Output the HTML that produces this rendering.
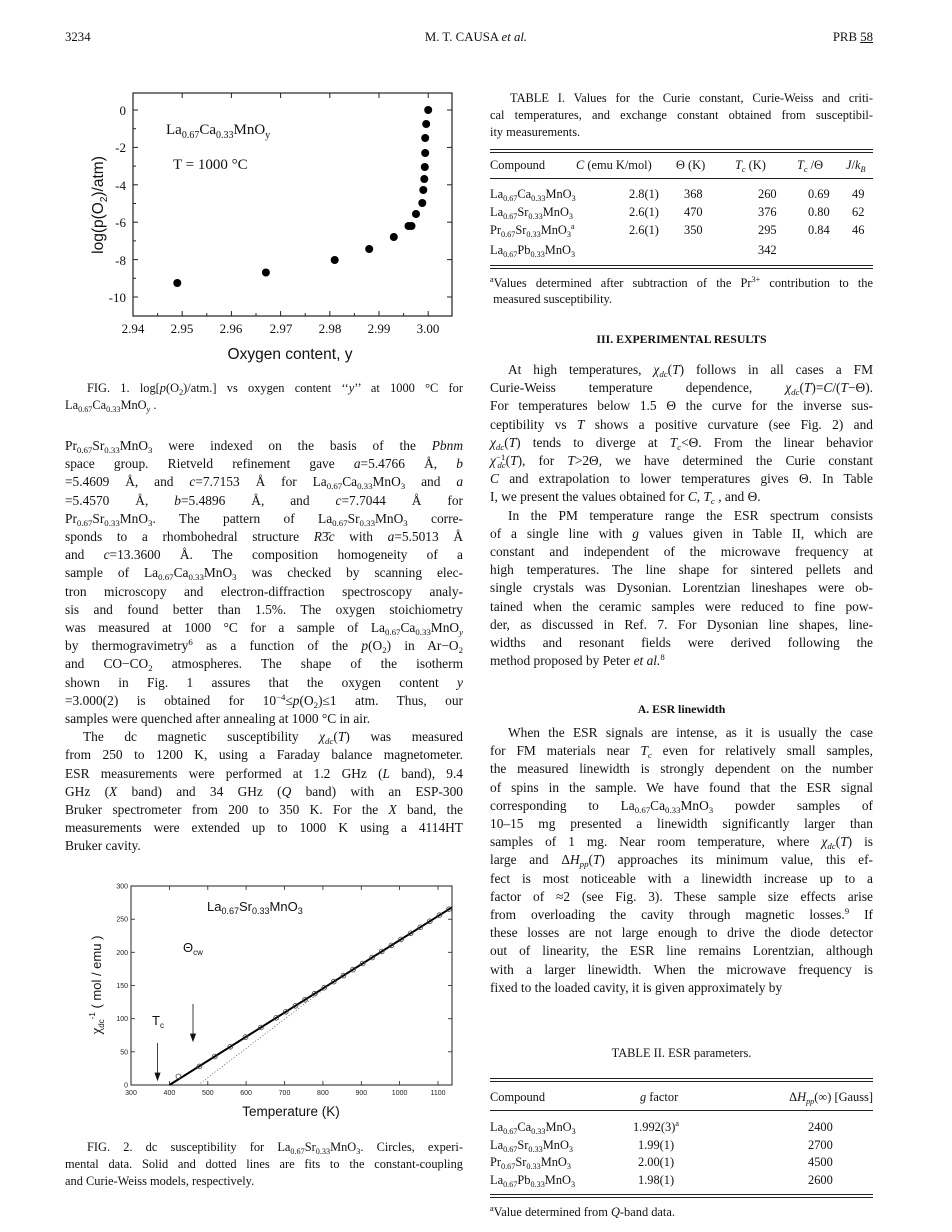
<!DOCTYPE html>
<html><head><meta charset="utf-8"><style>
html,body{margin:0;padding:0;background:#fff;}
body{width:952px;height:1232px;position:relative;overflow:hidden;font-family:"Liberation Serif",serif;color:#111;}
.l{position:absolute;font-size:13.4px;line-height:16px;text-align:justify;text-align-last:justify;white-space:normal;height:16px;overflow:visible}
.L{left:65px;width:398px}
.R{left:490px;width:383px}
.e{text-align-last:left}
.s{position:absolute;font-size:12.4px;line-height:15px;}
sub{font-size:66%;vertical-align:-3px;line-height:0}
sup{font-size:66%;vertical-align:5px;line-height:0}
i{font-style:italic}
.hr{position:absolute;left:490px;width:383px;border-top:1px solid #222}
.cap{font-size:12.4px}
</style></head><body>

<div class="s" style="left:65px;top:30px;font-size:12.8px">3234</div>
<div class="s" style="left:376px;top:30px;width:200px;text-align:center;font-size:12.8px">M. T. CAUSA <i>et al.</i></div>
<div class="s" style="left:825px;top:30px;width:48px;text-align:right;font-size:12.8px">PRB <u>58</u></div>

<!-- FIG 1 -->
<svg style="position:absolute;left:0;top:0" width="470" height="370" font-family="Liberation Sans, sans-serif">
<rect x="133" y="93" width="319" height="223" fill="none" stroke="#222" stroke-width="1.2"/>
<g stroke="#222" stroke-width="1">
<line x1="133" y1="110" x2="138" y2="110"/><line x1="133" y1="147.4" x2="138" y2="147.4"/><line x1="133" y1="184.8" x2="138" y2="184.8"/><line x1="133" y1="222.2" x2="138" y2="222.2"/><line x1="133" y1="259.6" x2="138" y2="259.6"/><line x1="133" y1="297" x2="138" y2="297"/>
<line x1="133" y1="128.7" x2="136" y2="128.7"/><line x1="133" y1="166.1" x2="136" y2="166.1"/><line x1="133" y1="203.5" x2="136" y2="203.5"/><line x1="133" y1="240.9" x2="136" y2="240.9"/><line x1="133" y1="278.3" x2="136" y2="278.3"/>
<line x1="452" y1="110" x2="447" y2="110"/><line x1="452" y1="147.4" x2="447" y2="147.4"/><line x1="452" y1="184.8" x2="447" y2="184.8"/><line x1="452" y1="222.2" x2="447" y2="222.2"/><line x1="452" y1="259.6" x2="447" y2="259.6"/><line x1="452" y1="297" x2="447" y2="297"/>
<line x1="182.2" y1="316" x2="182.2" y2="311"/><line x1="231.4" y1="316" x2="231.4" y2="311"/><line x1="280.6" y1="316" x2="280.6" y2="311"/><line x1="329.8" y1="316" x2="329.8" y2="311"/><line x1="379" y1="316" x2="379" y2="311"/><line x1="428.2" y1="316" x2="428.2" y2="311"/>
<line x1="157.6" y1="316" x2="157.6" y2="313"/><line x1="206.8" y1="316" x2="206.8" y2="313"/><line x1="256" y1="316" x2="256" y2="313"/><line x1="305.2" y1="316" x2="305.2" y2="313"/><line x1="354.4" y1="316" x2="354.4" y2="313"/><line x1="403.6" y1="316" x2="403.6" y2="313"/>
<line x1="182.2" y1="93" x2="182.2" y2="98"/><line x1="231.4" y1="93" x2="231.4" y2="98"/><line x1="280.6" y1="93" x2="280.6" y2="98"/><line x1="329.8" y1="93" x2="329.8" y2="98"/><line x1="379" y1="93" x2="379" y2="98"/><line x1="428.2" y1="93" x2="428.2" y2="98"/>
</g>
<g font-family="Liberation Serif, serif" font-size="13" text-anchor="end" fill="#111">
<text x="126" y="115">0</text><text x="126" y="152">-2</text><text x="126" y="190">-4</text><text x="126" y="227">-6</text><text x="126" y="265">-8</text><text x="126" y="302">-10</text>
</g>
<g font-family="Liberation Serif, serif" font-size="13" text-anchor="middle" fill="#111">
<text x="133" y="333">2.94</text><text x="182" y="333">2.95</text><text x="231" y="333">2.96</text><text x="281" y="333">2.97</text><text x="330" y="333">2.98</text><text x="379" y="333">2.99</text><text x="428" y="333">3.00</text>
</g>
<text x="290" y="359" font-size="15.5" text-anchor="middle" fill="#111">Oxygen content, y</text>
<text transform="translate(103,205) rotate(-90)" font-size="15.5" text-anchor="middle" fill="#111">log(p(O<tspan font-size="10" dy="4">2</tspan><tspan dy="-4">)/atm)</tspan></text>
<text x="166" y="134" font-family="Liberation Serif, serif" font-size="15" fill="#111">La<tspan font-size="10" dy="4">0.67</tspan><tspan dy="-4">Ca</tspan><tspan font-size="10" dy="4">0.33</tspan><tspan dy="-4">MnO</tspan><tspan font-size="10" dy="4">y</tspan></text>
<text x="173" y="169" font-family="Liberation Serif, serif" font-size="15" fill="#111">T = 1000 °C</text>
<g fill="#000">
<circle cx="177.3" cy="283" r="4"/><circle cx="265.9" cy="272.5" r="4"/><circle cx="334.7" cy="260" r="4"/><circle cx="369.2" cy="249" r="4"/><circle cx="393.8" cy="237" r="4"/><circle cx="408.5" cy="226" r="4"/><circle cx="411.5" cy="226" r="4"/><circle cx="416" cy="214" r="4"/><circle cx="422.3" cy="203" r="4"/><circle cx="423.3" cy="190" r="4"/><circle cx="424.3" cy="179" r="4"/><circle cx="424.8" cy="167" r="4"/><circle cx="425.2" cy="153" r="4"/><circle cx="425.2" cy="138" r="4"/><circle cx="426.2" cy="124" r="4"/><circle cx="428.2" cy="110" r="4"/>
</g>
</svg>

<div class="l L cap" style="top:380px;text-indent:22px">FIG. 1. log[<i>p</i>(O<sub>2</sub>)/atm.] vs oxygen content ‘‘<i>y</i>’’ at 1000 °C for</div>
<div class="l L e cap" style="top:397px">La<sub>0.67</sub>Ca<sub>0.33</sub>MnO<sub><i>y</i></sub> .</div>

<div class="l L" style="top:438px">Pr<sub>0.67</sub>Sr<sub>0.33</sub>MnO<sub>3</sub> were indexed on the basis of the <i>Pbnm</i></div>
<div class="l L" style="top:456.2px">space group. Rietveld refinement gave <i>a</i>=5.4766 Å, <i>b</i></div>
<div class="l L" style="top:474.4px">=5.4609 Å, and <i>c</i>=7.7153 Å for La<sub>0.67</sub>Ca<sub>0.33</sub>MnO<sub>3</sub> and <i>a</i></div>
<div class="l L" style="top:492.6px">=5.4570 Å, <i>b</i>=5.4896 Å, and <i>c</i>=7.7044 Å for</div>
<div class="l L" style="top:510.8px">Pr<sub>0.67</sub>Sr<sub>0.33</sub>MnO<sub>3</sub>. The pattern of La<sub>0.67</sub>Sr<sub>0.33</sub>MnO<sub>3</sub> corre-</div>
<div class="l L" style="top:529px">sponds to a rhombohedral structure <i>R</i>3̄<i>c</i> with <i>a</i>=5.5013 Å</div>
<div class="l L" style="top:547.2px">and <i>c</i>=13.3600 Å. The composition homogeneity of a</div>
<div class="l L" style="top:565.4px">sample of La<sub>0.67</sub>Ca<sub>0.33</sub>MnO<sub>3</sub> was checked by scanning elec-</div>
<div class="l L" style="top:583.6px">tron microscopy and electron-diffraction spectroscopy analy-</div>
<div class="l L" style="top:601.8px">sis and found better than 1.5%. The oxygen stoichiometry</div>
<div class="l L" style="top:620px">was measured at 1000 °C for a sample of La<sub>0.67</sub>Ca<sub>0.33</sub>MnO<sub><i>y</i></sub></div>
<div class="l L" style="top:638.2px">by thermogravimetry<sup>6</sup> as a function of the <i>p</i>(O<sub>2</sub>) in Ar−O<sub>2</sub></div>
<div class="l L" style="top:656.4px">and CO−CO<sub>2</sub> atmospheres. The shape of the isotherm</div>
<div class="l L" style="top:674.6px">shown in Fig. 1 assures that the oxygen content <i>y</i></div>
<div class="l L" style="top:692.8px">=3.000(2) is obtained for 10<sup>−4</sup>≤<i>p</i>(O<sub>2</sub>)≤1 atm. Thus, our</div>
<div class="l L e" style="top:711px">samples were quenched after annealing at 1000 °C in air.</div>
<div class="l L" style="top:729.2px;text-indent:18px">The dc magnetic susceptibility <i>χ<sub>dc</sub></i>(<i>T</i>) was measured</div>
<div class="l L" style="top:747.4px">from 250 to 1200 K, using a Faraday balance magnetometer.</div>
<div class="l L" style="top:765.6px">ESR measurements were performed at 1.2 GHz (<i>L</i> band), 9.4</div>
<div class="l L" style="top:783.8px">GHz (<i>X</i> band) and 34 GHz (<i>Q</i> band) with an ESP-300</div>
<div class="l L" style="top:802px">Bruker spectrometer from 200 to 350 K. For the <i>X</i> band, the</div>
<div class="l L" style="top:820.2px">measurements were extended up to 1000 K using a 4114HT</div>
<div class="l L e" style="top:838.4px">Bruker cavity.</div>

<!-- FIG 2 -->
<svg style="position:absolute;left:0;top:870px" width="470" height="260" font-family="Liberation Sans, sans-serif">
<g transform="translate(0,-870)">
<rect x="131" y="886" width="321" height="199" fill="none" stroke="#222" stroke-width="1"/>
<g stroke="#222" stroke-width="0.8">
<line x1="131" y1="886" x2="135" y2="886"/><line x1="131" y1="919.2" x2="135" y2="919.2"/><line x1="131" y1="952.3" x2="135" y2="952.3"/><line x1="131" y1="985.5" x2="135" y2="985.5"/><line x1="131" y1="1018.7" x2="135" y2="1018.7"/><line x1="131" y1="1051.8" x2="135" y2="1051.8"/>
<line x1="452" y1="886" x2="448" y2="886"/><line x1="452" y1="919.2" x2="448" y2="919.2"/><line x1="452" y1="952.3" x2="448" y2="952.3"/><line x1="452" y1="985.5" x2="448" y2="985.5"/><line x1="452" y1="1018.7" x2="448" y2="1018.7"/><line x1="452" y1="1051.8" x2="448" y2="1051.8"/>
<line x1="169.4" y1="1085" x2="169.4" y2="1081"/><line x1="207.8" y1="1085" x2="207.8" y2="1081"/><line x1="246.1" y1="1085" x2="246.1" y2="1081"/><line x1="284.5" y1="1085" x2="284.5" y2="1081"/><line x1="322.9" y1="1085" x2="322.9" y2="1081"/><line x1="361.3" y1="1085" x2="361.3" y2="1081"/><line x1="399.6" y1="1085" x2="399.6" y2="1081"/><line x1="438" y1="1085" x2="438" y2="1081"/>
<line x1="169.4" y1="886" x2="169.4" y2="890"/><line x1="207.8" y1="886" x2="207.8" y2="890"/><line x1="246.1" y1="886" x2="246.1" y2="890"/><line x1="284.5" y1="886" x2="284.5" y2="890"/><line x1="322.9" y1="886" x2="322.9" y2="890"/><line x1="361.3" y1="886" x2="361.3" y2="890"/><line x1="399.6" y1="886" x2="399.6" y2="890"/><line x1="438" y1="886" x2="438" y2="890"/>
</g>
<g font-size="7" text-anchor="end" fill="#222">
<text x="128" y="888.5">300</text><text x="128" y="921.7">250</text><text x="128" y="954.8">200</text><text x="128" y="988">150</text><text x="128" y="1021.2">100</text><text x="128" y="1054.3">50</text><text x="128" y="1087.5">0</text>
</g>
<g font-size="7" text-anchor="middle" fill="#222">
<text x="131" y="1095">300</text><text x="169.4" y="1095">400</text><text x="207.8" y="1095">500</text><text x="246.1" y="1095">600</text><text x="284.5" y="1095">700</text><text x="322.9" y="1095">800</text><text x="361.3" y="1095">900</text><text x="399.6" y="1095">1000</text><text x="438" y="1095">1100</text>
</g>
<text x="291" y="1116" font-size="13.5" text-anchor="middle" fill="#111">Temperature (K)</text>
<text transform="translate(101,985) rotate(-90)" font-size="13" text-anchor="middle" fill="#111"><tspan font-family="Liberation Serif, serif" font-size="15">χ</tspan><tspan font-size="8" dy="3">dc</tspan><tspan font-size="8" dy="-9">-1</tspan><tspan dy="6"> ( mol / emu )</tspan></text>
<text x="207" y="911" font-size="13" fill="#111">La<tspan font-size="9" dy="3">0.67</tspan><tspan dy="-3">Sr</tspan><tspan font-size="9" dy="3">0.33</tspan><tspan dy="-3">MnO</tspan><tspan font-size="9" dy="3">3</tspan></text>
<text x="183" y="952" font-size="13" fill="#111">Θ<tspan font-size="8" dy="3">cw</tspan></text>
<text x="152" y="1025" font-size="13" fill="#111">T<tspan font-size="8" dy="3">c</tspan></text>
<g stroke="#111" stroke-width="0.8" fill="#111">
<line x1="193" y1="1004" x2="193" y2="1036"/><path d="M190.5 1034 L195.5 1034 L193 1041 Z"/>
<line x1="157.5" y1="1043" x2="157.5" y2="1075"/><path d="M155 1073 L160 1073 L157.5 1080 Z"/>
</g>
<line x1="169.4" y1="1085" x2="452" y2="907.3" stroke="#000" stroke-width="2"/>
<line x1="198" y1="1085" x2="332" y2="983" stroke="#555" stroke-width="0.8" stroke-dasharray="1,2"/>
<g fill="none" stroke="#444" stroke-width="0.8">
<circle cx="178.4" cy="1076.4" r="2.4"/><circle cx="199.4" cy="1066.4" r="2.4"/><circle cx="214.8" cy="1056.5" r="2.4"/><circle cx="230.2" cy="1046.8" r="2.4"/><circle cx="245.5" cy="1037.1" r="2.4"/><circle cx="260.9" cy="1027.5" r="2.4"/><circle cx="276.2" cy="1017.8" r="2.4"/><circle cx="285.8" cy="1011.8" r="2.4"/><circle cx="295.4" cy="1005.8" r="2.4"/><circle cx="305" cy="999.7" r="2.4"/><circle cx="314.6" cy="993.7" r="2.4"/><circle cx="324.2" cy="987.7" r="2.4"/><circle cx="333.8" cy="981.6" r="2.4"/><circle cx="343.4" cy="975.6" r="2.4"/><circle cx="353" cy="969.6" r="2.4"/><circle cx="362.6" cy="963.5" r="2.4"/><circle cx="372.2" cy="957.5" r="2.4"/><circle cx="381.8" cy="951.4" r="2.4"/><circle cx="391.4" cy="945.4" r="2.4"/><circle cx="401" cy="939.4" r="2.4"/><circle cx="410.6" cy="933.3" r="2.4"/><circle cx="420.2" cy="927.3" r="2.4"/><circle cx="429.8" cy="921.3" r="2.4"/><circle cx="439.4" cy="915.2" r="2.4"/><circle cx="449" cy="909.2" r="2.4"/>
</g>
</g>
</svg>

<div class="l L cap" style="top:1139px;text-indent:22px">FIG. 2. dc susceptibility for La<sub>0.67</sub>Sr<sub>0.33</sub>MnO<sub>3</sub>. Circles, experi-</div>
<div class="l L cap" style="top:1156px">mental data. Solid and dotted lines are fits to the constant-coupling</div>
<div class="l L e cap" style="top:1173px">and Curie-Weiss models, respectively.</div>

<!-- TABLE I -->
<div class="l R cap" style="top:90px;text-indent:20px">TABLE I. Values for the Curie constant, Curie-Weiss and criti-</div>
<div class="l R cap" style="top:107px">cal temperatures, and exchange constant obtained from susceptibil-</div>
<div class="l R e cap" style="top:124px">ity measurements.</div>
<div class="hr" style="top:149px"></div><div class="hr" style="top:152px"></div>
<div class="s" style="left:490px;top:158px">Compound</div>
<div class="s" style="left:576px;top:158px"><i>C</i> (emu K/mol)</div>
<div class="s" style="left:676px;top:158px">Θ (K)</div>
<div class="s" style="left:735px;top:158px"><i>T<sub>c</sub></i> (K)</div>
<div class="s" style="left:797px;top:158px"><i>T<sub>c</sub></i> /Θ</div>
<div class="s" style="left:846px;top:158px"><i>J</i>/<i>k<sub>B</sub></i></div>
<div class="hr" style="top:178px"></div>
<div class="s" style="left:490px;top:187px">La<sub>0.67</sub>Ca<sub>0.33</sub>MnO<sub>3</sub></div>
<div class="s" style="left:490px;top:205px">La<sub>0.67</sub>Sr<sub>0.33</sub>MnO<sub>3</sub></div>
<div class="s" style="left:490px;top:223px">Pr<sub>0.67</sub>Sr<sub>0.33</sub>MnO<sub>3</sub><sup>a</sup></div>
<div class="s" style="left:490px;top:243px">La<sub>0.67</sub>Pb<sub>0.33</sub>MnO<sub>3</sub></div>
<div class="s" style="left:629px;top:187px">2.8(1)</div><div class="s" style="left:629px;top:205px">2.6(1)</div><div class="s" style="left:629px;top:223px">2.6(1)</div>
<div class="s" style="left:684px;top:187px">368</div><div class="s" style="left:684px;top:205px">470</div><div class="s" style="left:684px;top:223px">350</div>
<div class="s" style="left:758px;top:187px">260</div><div class="s" style="left:758px;top:205px">376</div><div class="s" style="left:758px;top:223px">295</div><div class="s" style="left:758px;top:243px">342</div>
<div class="s" style="left:808px;top:187px">0.69</div><div class="s" style="left:808px;top:205px">0.80</div><div class="s" style="left:808px;top:223px">0.84</div>
<div class="s" style="left:852px;top:187px">49</div><div class="s" style="left:852px;top:205px">62</div><div class="s" style="left:852px;top:223px">46</div>
<div class="hr" style="top:265px"></div><div class="hr" style="top:268px"></div>
<div class="l R cap" style="top:275px"><sup>a</sup>Values determined after subtraction of the Pr<sup>3+</sup> contribution to the</div>
<div class="l R e cap" style="top:291px">&nbsp;measured susceptibility.</div>

<div class="s" style="left:490px;top:332px;width:383px;text-align:center;font-weight:bold;font-size:11.8px">III. EXPERIMENTAL RESULTS</div>

<div class="l R" style="top:362px;text-indent:18px">At high temperatures, <i>χ<sub>dc</sub></i>(<i>T</i>) follows in all cases a FM</div>
<div class="l R" style="top:380.2px">Curie-Weiss temperature dependence, <i>χ<sub>dc</sub></i>(<i>T</i>)=<i>C</i>/(<i>T</i>−Θ).</div>
<div class="l R" style="top:398.4px">For temperatures below 1.5 Θ the curve for the inverse sus-</div>
<div class="l R" style="top:416.6px">ceptibility vs <i>T</i> shows a positive curvature (see Fig. 2) and</div>
<div class="l R" style="top:434.8px"><i>χ<sub>dc</sub></i>(<i>T</i>) tends to diverge at <i>T<sub>c</sub></i>&lt;Θ. From the linear behavior</div>
<div class="l R" style="top:453px"><i>χ</i><sup>−1</sup><sub style="margin-left:-8px"><i>dc</i></sub>(<i>T</i>), for <i>T</i>&gt;2Θ, we have determined the Curie constant</div>
<div class="l R" style="top:471.2px"><i>C</i> and extrapolation to lower temperatures gives Θ. In Table</div>
<div class="l R e" style="top:489.4px">I, we present the values obtained for <i>C</i>, <i>T<sub>c</sub></i> , and Θ.</div>
<div class="l R" style="top:507.6px;text-indent:18px">In the PM temperature range the ESR spectrum consists</div>
<div class="l R" style="top:525.8px">of a single line with <i>g</i> values given in Table II, which are</div>
<div class="l R" style="top:544px">constant and independent of the microwave frequency at</div>
<div class="l R" style="top:562.2px">high temperatures. The line shape for sintered pellets and</div>
<div class="l R" style="top:580.4px">single crystals was Dysonian. Lorentzian lineshapes were ob-</div>
<div class="l R" style="top:598.6px">tained when the ceramic samples were reduced to fine pow-</div>
<div class="l R" style="top:616.8px">der, as discussed in Ref. 7. For Dysonian line shapes, line-</div>
<div class="l R" style="top:635px">widths and resonant fields were derived following the</div>
<div class="l R e" style="top:653.2px">method proposed by Peter <i>et al.</i><sup>8</sup></div>

<div class="s" style="left:490px;top:702px;width:383px;text-align:center;font-weight:bold;font-size:11.8px">A. ESR linewidth</div>

<div class="l R" style="top:725px;text-indent:18px">When the ESR signals are intense, as it is usually the case</div>
<div class="l R" style="top:743.2px">for FM materials near <i>T<sub>c</sub></i> even for relatively small samples,</div>
<div class="l R" style="top:761.4px">the measured linewidth is strongly dependent on the number</div>
<div class="l R" style="top:779.6px">of spins in the sample. We have found that the ESR signal</div>
<div class="l R" style="top:797.8px">corresponding to La<sub>0.67</sub>Ca<sub>0.33</sub>MnO<sub>3</sub> powder samples of</div>
<div class="l R" style="top:816px">10–15 mg presented a linewidth significantly larger than</div>
<div class="l R" style="top:834.2px">samples of 1 mg. Near room temperature, where <i>χ<sub>dc</sub></i>(<i>T</i>) is</div>
<div class="l R" style="top:852.4px">large and Δ<i>H<sub>pp</sub></i>(<i>T</i>) approaches its minimum value, this ef-</div>
<div class="l R" style="top:870.6px">fect is most noticeable with a linewidth increase up to a</div>
<div class="l R" style="top:888.8px">factor of ≈2 (see Fig. 3). These sample size effects arise</div>
<div class="l R" style="top:907px">from overloading the cavity through magnetic losses.<sup>9</sup> If</div>
<div class="l R" style="top:925.2px">these losses are not large enough to drive the diode detector</div>
<div class="l R" style="top:943.4px">out of linearity, the ESR line remains Lorentzian, although</div>
<div class="l R" style="top:961.6px">with a larger linewidth. When the microwave frequency is</div>
<div class="l R e" style="top:979.8px">fixed to the loaded cavity, it is given approximately by</div>

<!-- TABLE II -->
<div class="s" style="left:490px;top:1046px;width:383px;text-align:center;font-size:12.4px">TABLE II. ESR parameters.</div>
<div class="hr" style="top:1078px"></div><div class="hr" style="top:1081px"></div>
<div class="s" style="left:490px;top:1090px">Compound</div>
<div class="s" style="left:640px;top:1090px"><i>g</i> factor</div>
<div class="s" style="left:753px;top:1090px;width:120px;text-align:right">Δ<i>H<sub>pp</sub></i>(∞) [Gauss]</div>
<div class="hr" style="top:1110px"></div>
<div class="s" style="left:490px;top:1120px">La<sub>0.67</sub>Ca<sub>0.33</sub>MnO<sub>3</sub></div>
<div class="s" style="left:490px;top:1138px">La<sub>0.67</sub>Sr<sub>0.33</sub>MnO<sub>3</sub></div>
<div class="s" style="left:490px;top:1155px">Pr<sub>0.67</sub>Sr<sub>0.33</sub>MnO<sub>3</sub></div>
<div class="s" style="left:490px;top:1173px">La<sub>0.67</sub>Pb<sub>0.33</sub>MnO<sub>3</sub></div>
<div class="s" style="left:633px;top:1120px">1.992(3)<sup>a</sup></div>
<div class="s" style="left:638px;top:1138px">1.99(1)</div>
<div class="s" style="left:638px;top:1155px">2.00(1)</div>
<div class="s" style="left:638px;top:1173px">1.98(1)</div>
<div class="s" style="left:808px;top:1120px">2400</div>
<div class="s" style="left:808px;top:1138px">2700</div>
<div class="s" style="left:808px;top:1155px">4500</div>
<div class="s" style="left:808px;top:1173px">2600</div>
<div class="hr" style="top:1194px"></div><div class="hr" style="top:1197px"></div>
<div class="s" style="left:490px;top:1205px;font-size:12.4px"><sup>a</sup>Value determined from <i>Q</i>-band data.</div>

</body></html>
